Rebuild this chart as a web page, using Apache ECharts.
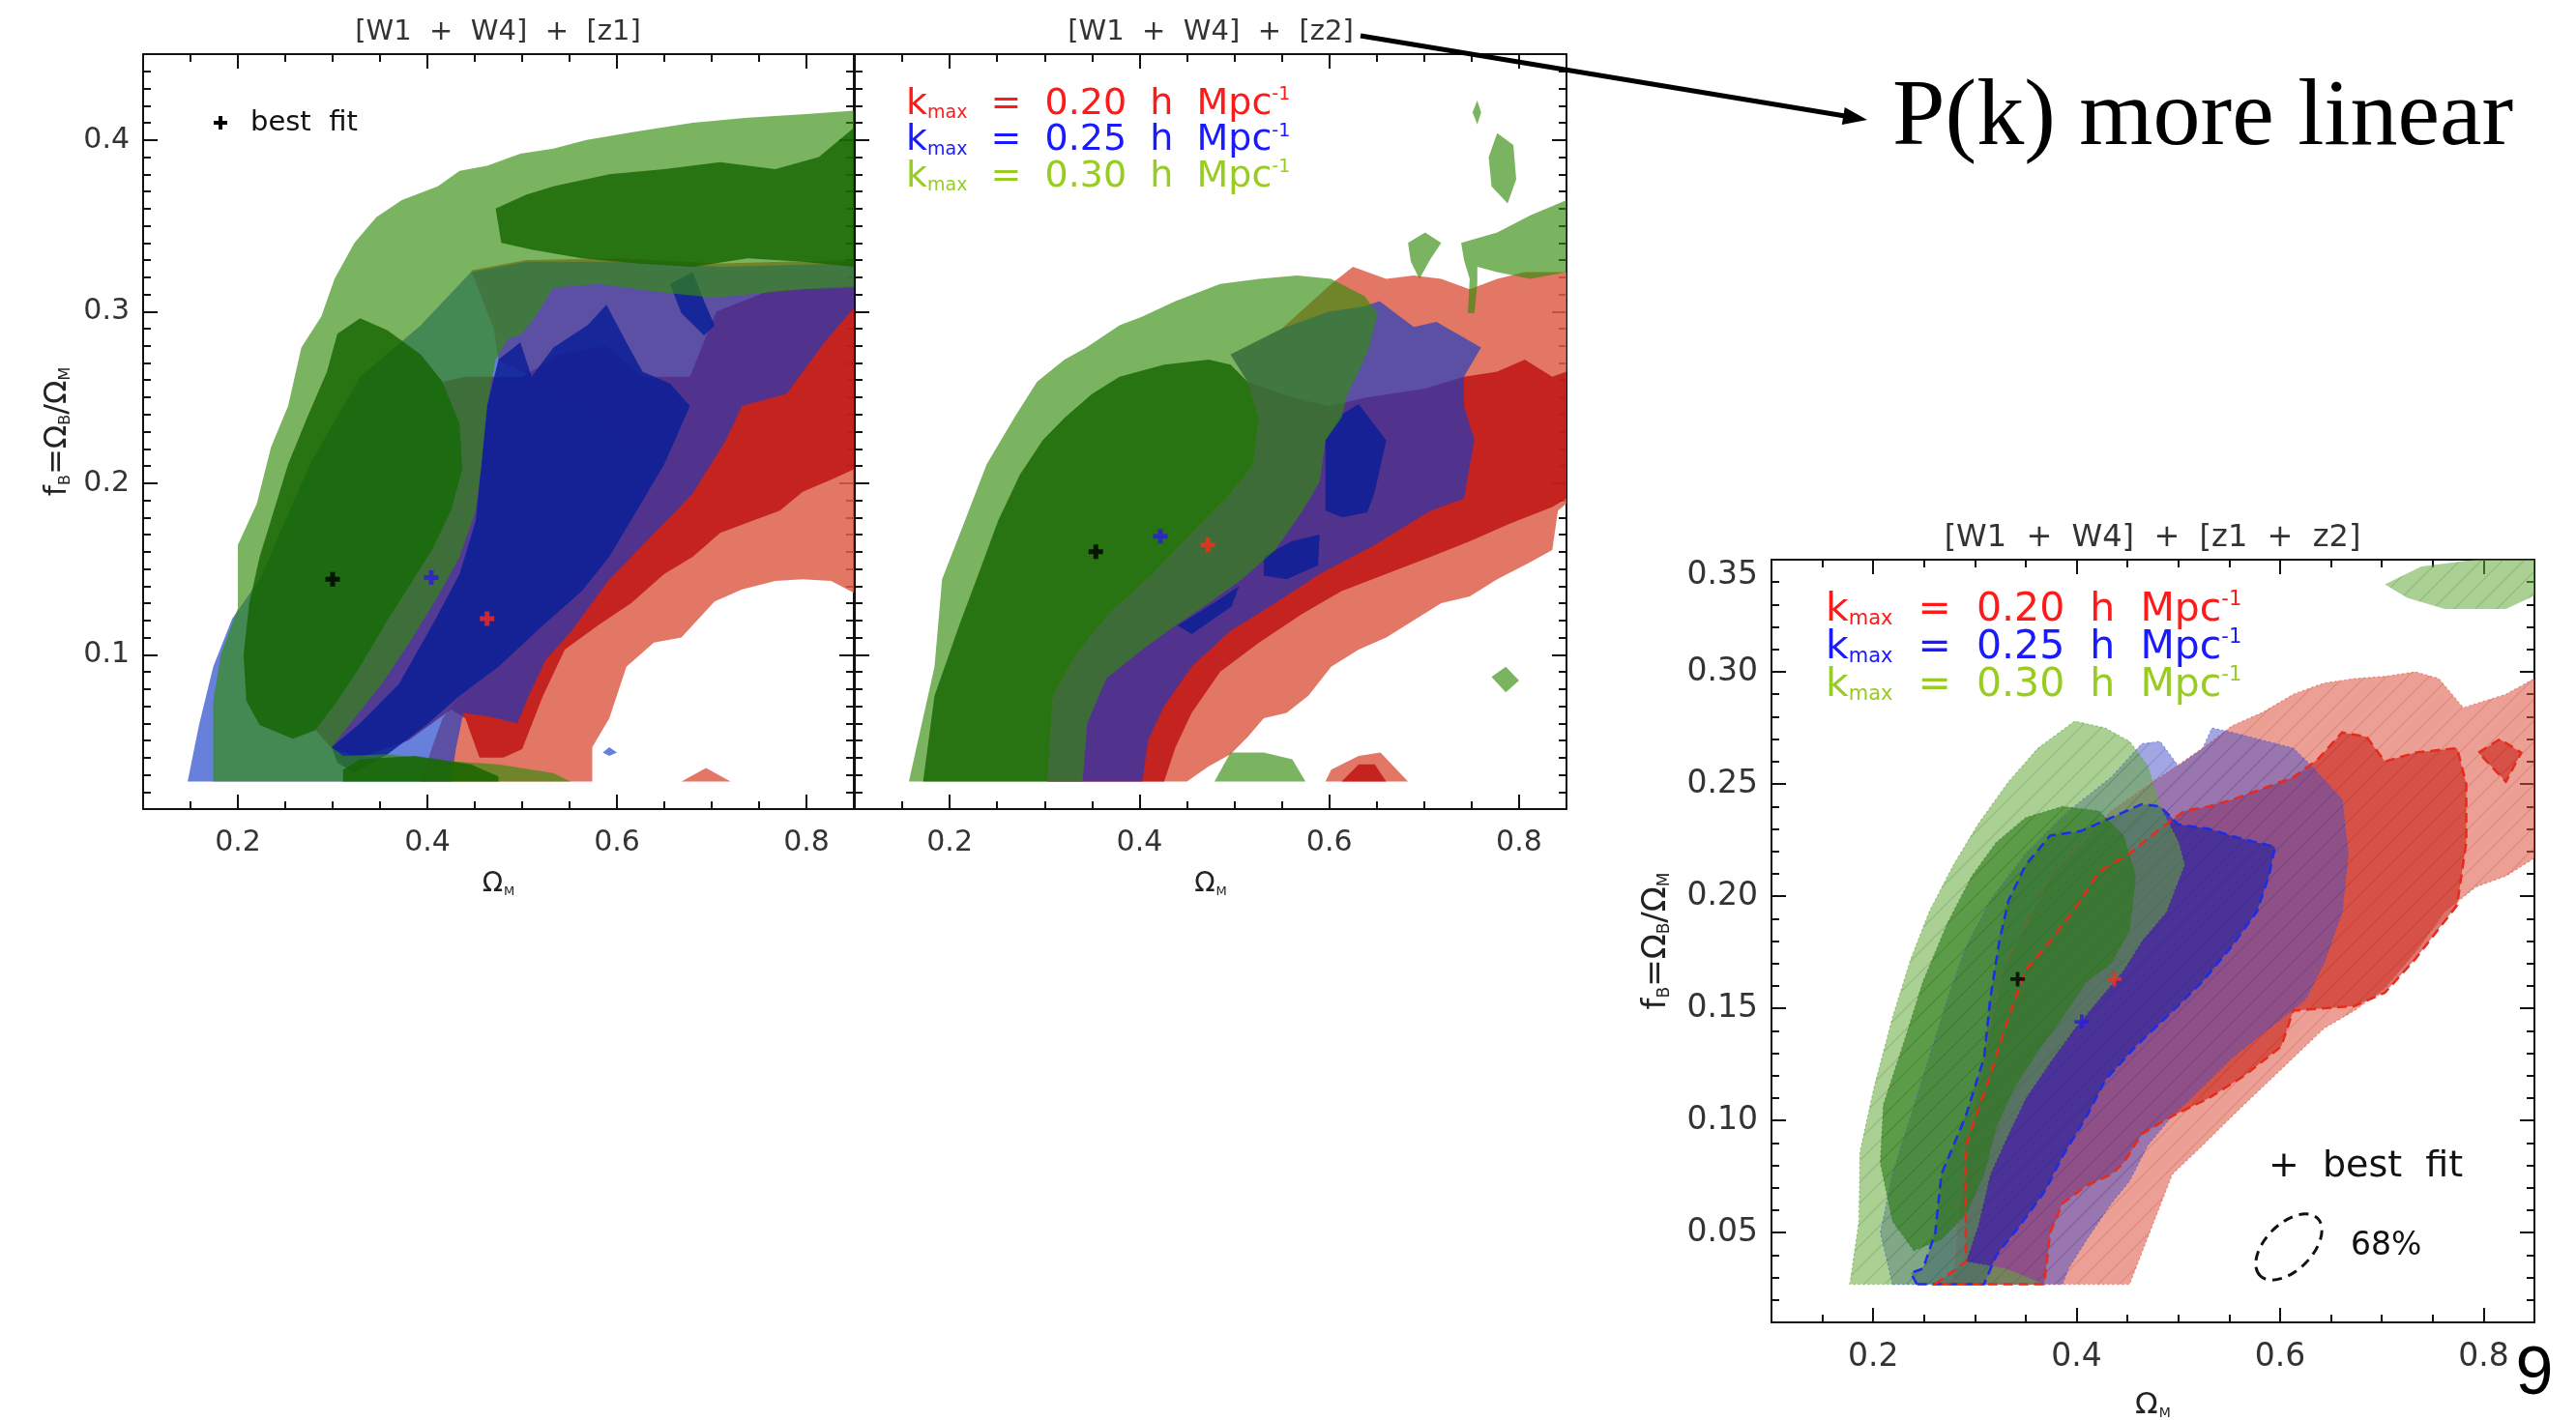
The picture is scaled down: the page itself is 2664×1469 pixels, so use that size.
<!DOCTYPE html>
<html>
<head>
<meta charset="utf-8">
<title>Omega_M vs f_B constraints</title>
<script src="https://cdn.jsdelivr.net/npm/echarts@6/dist/echarts.min.js"></script>
<style>
html,body{margin:0;padding:0;background:#ffffff;}
#chart{width:2664px;height:1469px;}
</style>
</head>
<body>
<div id="chart"></div>
<script>
const FONT = "'DejaVu Sans', 'Noto Sans', sans-serif";

// ---------- axes ----------
const omegaRange = [0.1, 0.85];
const fbRangeSplit = [0.01, 0.45];
const fbRangeJoint = [0.01, 0.35];
const omegaMajor = [0.2, 0.4, 0.6, 0.8];
const omegaMinor = [0.15, 0.25, 0.3, 0.35, 0.45, 0.5, 0.55, 0.65, 0.7, 0.75];
const fbMajorSplit = [0.1, 0.2, 0.3, 0.4];
const fbMajorJoint = [0.05, 0.10, 0.15, 0.20, 0.25, 0.30, 0.35];

const panelTitles = ['[W1  +  W4]  +  [z1]', '[W1  +  W4]  +  [z2]', '[W1  +  W4]  +  [z1  +  z2]'];
const kmaxValues = ['0.20', '0.25', '0.30'];
const kmaxColors = ['#ff1a1a', '#1a1aff', '#99cc22'];

// ---------- best-fit points [Omega_M, f_B]: k=0.30 (black), 0.25 (blue), 0.20 (red) ----------
const bestFitColors = ['#000000', '#2a1ae0', '#ff2a1a'];
const bestFitZ1  = [[0.300, 0.144], [0.404, 0.145], [0.463, 0.121]];
const bestFitZ2  = [[0.354, 0.160], [0.422, 0.169], [0.472, 0.164]];
const bestFitZ12 = [[0.342, 0.163], [0.405, 0.144], [0.437, 0.163]];

// ---------- [z1] contours ----------
const z1RedOuter = [[0.850,0.330],[0.709,0.328],[0.600,0.331],[0.504,0.330],[0.446,0.324],[0.470,0.290],[0.475,0.272],[0.510,0.262],[0.560,0.250],[0.600,0.230],[0.650,0.211],[0.621,0.184],[0.592,0.157],[0.563,0.137],[0.522,0.117],[0.475,0.093],[0.434,0.076],[0.416,0.063],[0.405,0.046],[0.393,0.026],[0.574,0.026],[0.574,0.046],[0.592,0.063],[0.610,0.093],[0.639,0.107],[0.668,0.110],[0.703,0.131],[0.732,0.138],[0.767,0.143],[0.796,0.144],[0.826,0.143],[0.850,0.136]];
const z1RedOuterB = [[0.668,0.026],[0.694,0.034],[0.720,0.026]];
const z1RedInner = [[0.850,0.315],[0.760,0.312],[0.705,0.300],[0.690,0.280],[0.677,0.262],[0.627,0.262],[0.589,0.280],[0.540,0.275],[0.500,0.262],[0.472,0.262],[0.440,0.262],[0.416,0.259],[0.434,0.235],[0.437,0.208],[0.425,0.184],[0.405,0.161],[0.381,0.140],[0.358,0.120],[0.329,0.093],[0.305,0.073],[0.282,0.056],[0.300,0.045],[0.330,0.040],[0.380,0.050],[0.425,0.068],[0.440,0.063],[0.455,0.040],[0.480,0.040],[0.500,0.045],[0.522,0.076],[0.545,0.103],[0.580,0.117],[0.615,0.130],[0.650,0.147],[0.680,0.157],[0.709,0.171],[0.743,0.178],[0.772,0.184],[0.796,0.195],[0.826,0.202],[0.850,0.208]];
const z1BlueOuter = [[0.147,0.026],[0.159,0.059],[0.174,0.093],[0.194,0.121],[0.223,0.144],[0.276,0.211],[0.329,0.262],[0.393,0.292],[0.446,0.323],[0.504,0.329],[0.592,0.329],[0.650,0.328],[0.709,0.326],[0.850,0.328],[0.850,0.302],[0.819,0.282],[0.779,0.252],[0.732,0.245],[0.715,0.225],[0.680,0.194],[0.633,0.167],[0.592,0.144],[0.551,0.113],[0.525,0.097],[0.507,0.076],[0.495,0.060],[0.465,0.064],[0.438,0.066],[0.430,0.045],[0.425,0.026]];
const z1BlueOuterB = [[0.585,0.043],[0.592,0.046],[0.600,0.043],[0.592,0.041]];
const z1BlueInner = [[0.305,0.037],[0.299,0.046],[0.329,0.060],[0.370,0.083],[0.405,0.117],[0.434,0.147],[0.451,0.178],[0.457,0.211],[0.463,0.245],[0.475,0.272],[0.498,0.282],[0.510,0.262],[0.533,0.279],[0.569,0.292],[0.589,0.304],[0.610,0.282],[0.627,0.265],[0.656,0.258],[0.677,0.245],[0.650,0.211],[0.621,0.184],[0.592,0.157],[0.563,0.137],[0.522,0.117],[0.475,0.093],[0.434,0.076],[0.399,0.059],[0.358,0.042],[0.323,0.031]];
const z1BlueInnerB = [[0.656,0.316],[0.680,0.323],[0.692,0.306],[0.703,0.292],[0.692,0.286],[0.668,0.299]];
const z1GreenOuter = [[0.174,0.026],[0.174,0.073],[0.182,0.100],[0.200,0.127],[0.200,0.164],[0.220,0.188],[0.235,0.221],[0.253,0.245],[0.267,0.279],[0.288,0.297],[0.302,0.319],[0.323,0.340],[0.346,0.355],[0.373,0.365],[0.411,0.373],[0.434,0.382],[0.463,0.385],[0.498,0.392],[0.533,0.395],[0.568,0.400],[0.621,0.405],[0.680,0.410],[0.738,0.413],[0.796,0.415],[0.850,0.417],[0.850,0.314],[0.796,0.313],[0.703,0.308],[0.650,0.311],[0.580,0.316],[0.533,0.314],[0.515,0.298],[0.500,0.287],[0.485,0.284],[0.472,0.272],[0.463,0.245],[0.457,0.211],[0.451,0.184],[0.434,0.157],[0.411,0.134],[0.381,0.107],[0.352,0.083],[0.323,0.063],[0.299,0.046],[0.311,0.041],[0.358,0.042],[0.422,0.038],[0.475,0.036],[0.533,0.031],[0.551,0.026]];
const z1GreenInner = [[0.258,0.051],[0.223,0.059],[0.209,0.073],[0.206,0.100],[0.212,0.130],[0.223,0.157],[0.238,0.184],[0.253,0.211],[0.273,0.238],[0.294,0.265],[0.305,0.287],[0.329,0.296],[0.358,0.289],[0.393,0.275],[0.416,0.259],[0.434,0.235],[0.437,0.208],[0.425,0.184],[0.405,0.161],[0.381,0.140],[0.358,0.120],[0.329,0.093],[0.305,0.073],[0.282,0.056]];
const z1GreenInnerB = [[0.472,0.360],[0.504,0.368],[0.533,0.373],[0.592,0.380],[0.650,0.383],[0.709,0.387],[0.767,0.383],[0.813,0.390],[0.850,0.407],[0.850,0.326],[0.796,0.329],[0.738,0.331],[0.680,0.326],[0.621,0.328],[0.563,0.331],[0.510,0.336],[0.478,0.340]];
const z1GreenInnerC = [[0.311,0.026],[0.311,0.033],[0.329,0.039],[0.387,0.041],[0.446,0.036],[0.475,0.029],[0.475,0.026]];

// ---------- [z2] contours ----------
const z2RedOuter = [[0.514,0.259],[0.496,0.275],[0.550,0.290],[0.602,0.316],[0.625,0.326],[0.660,0.319],[0.689,0.321],[0.718,0.319],[0.748,0.313],[0.777,0.319],[0.806,0.323],[0.850,0.323],[0.850,0.188],[0.841,0.184],[0.835,0.161],[0.812,0.154],[0.777,0.144],[0.748,0.134],[0.718,0.130],[0.689,0.120],[0.660,0.110],[0.631,0.103],[0.602,0.093],[0.578,0.076],[0.555,0.066],[0.531,0.063],[0.514,0.052],[0.496,0.042],[0.473,0.035],[0.450,0.026],[0.303,0.026],[0.309,0.076],[0.333,0.100],[0.368,0.124],[0.414,0.147],[0.455,0.171],[0.496,0.194],[0.520,0.211],[0.526,0.238]];
const z2RedOuterB = [[0.596,0.026],[0.602,0.033],[0.631,0.041],[0.654,0.043],[0.683,0.026]];
const z2RedInner = [[0.514,0.259],[0.560,0.250],[0.600,0.245],[0.640,0.250],[0.700,0.255],[0.742,0.262],[0.777,0.265],[0.806,0.272],[0.835,0.262],[0.850,0.265],[0.850,0.191],[0.835,0.186],[0.789,0.176],[0.748,0.166],[0.707,0.157],[0.660,0.147],[0.613,0.137],[0.572,0.124],[0.526,0.107],[0.485,0.090],[0.455,0.066],[0.438,0.046],[0.426,0.026],[0.303,0.026],[0.309,0.076],[0.333,0.100],[0.368,0.124],[0.414,0.147],[0.455,0.171],[0.496,0.194],[0.520,0.211],[0.526,0.238]];
const z2RedInnerB = [[0.613,0.026],[0.631,0.036],[0.648,0.036],[0.660,0.026]];
const z2BlueOuter = [[0.303,0.026],[0.309,0.076],[0.333,0.100],[0.368,0.124],[0.414,0.147],[0.455,0.171],[0.496,0.194],[0.520,0.211],[0.526,0.238],[0.514,0.259],[0.496,0.275],[0.550,0.290],[0.600,0.300],[0.637,0.303],[0.653,0.306],[0.689,0.291],[0.713,0.294],[0.760,0.279],[0.742,0.262],[0.742,0.245],[0.753,0.225],[0.748,0.210],[0.742,0.191],[0.707,0.184],[0.648,0.164],[0.590,0.147],[0.543,0.130],[0.496,0.114],[0.455,0.093],[0.426,0.070],[0.409,0.050],[0.403,0.026]];
const z2BlueInner = [[0.596,0.184],[0.596,0.225],[0.613,0.240],[0.631,0.246],[0.660,0.225],[0.648,0.195],[0.640,0.183],[0.614,0.180]];
const z2BlueInnerB = [[0.531,0.157],[0.560,0.166],[0.590,0.170],[0.588,0.152],[0.555,0.144],[0.531,0.146]];
const z2BlueInnerC = [[0.440,0.117],[0.478,0.130],[0.505,0.140],[0.497,0.128],[0.455,0.112]];
const z2GreenOuter = [[0.157,0.026],[0.184,0.093],[0.192,0.144],[0.216,0.178],[0.239,0.211],[0.268,0.238],[0.292,0.259],[0.321,0.272],[0.344,0.279],[0.379,0.292],[0.403,0.297],[0.438,0.306],[0.485,0.316],[0.526,0.319],[0.566,0.321],[0.602,0.319],[0.637,0.309],[0.651,0.299],[0.642,0.279],[0.631,0.265],[0.619,0.252],[0.613,0.238],[0.596,0.225],[0.590,0.201],[0.572,0.184],[0.543,0.161],[0.508,0.144],[0.473,0.130],[0.438,0.117],[0.403,0.103],[0.365,0.086],[0.345,0.060],[0.340,0.026]];
const z2GreenOuterB = [[0.751,0.416],[0.756,0.423],[0.760,0.416],[0.756,0.409]];
const z2GreenOuterC = [[0.777,0.404],[0.794,0.397],[0.797,0.377],[0.788,0.363],[0.771,0.373],[0.768,0.390]];
const z2GreenOuterD = [[0.683,0.340],[0.701,0.346],[0.718,0.340],[0.706,0.330],[0.695,0.319],[0.686,0.329]];
const z2GreenOuterE = [[0.739,0.340],[0.777,0.346],[0.812,0.356],[0.850,0.365],[0.850,0.323],[0.812,0.319],[0.777,0.323],[0.756,0.326],[0.756,0.316],[0.753,0.299],[0.746,0.299],[0.748,0.319],[0.742,0.330]];
const z2GreenOuterF = [[0.771,0.087],[0.786,0.093],[0.800,0.085],[0.786,0.078]];
const z2GreenOuterG = [[0.479,0.026],[0.496,0.043],[0.531,0.043],[0.561,0.039],[0.575,0.026]];
const z2GreenInner = [[0.172,0.026],[0.184,0.076],[0.210,0.117],[0.233,0.151],[0.251,0.178],[0.274,0.205],[0.298,0.225],[0.321,0.238],[0.350,0.252],[0.379,0.262],[0.426,0.269],[0.473,0.272],[0.496,0.269],[0.514,0.259],[0.526,0.238],[0.520,0.211],[0.496,0.194],[0.455,0.171],[0.414,0.147],[0.368,0.124],[0.333,0.100],[0.309,0.076],[0.303,0.026]];

// ---------- [z1 + z2] contours ----------
const z12RedOuter = [[0.279,0.027],[0.285,0.063],[0.303,0.115],[0.327,0.167],[0.374,0.209],[0.434,0.238],[0.482,0.253],[0.524,0.266],[0.553,0.276],[0.583,0.282],[0.613,0.290],[0.643,0.295],[0.673,0.297],[0.703,0.298],[0.733,0.300],[0.756,0.297],[0.780,0.284],[0.822,0.290],[0.850,0.297],[0.850,0.217],[0.822,0.209],[0.792,0.204],[0.762,0.193],[0.733,0.175],[0.703,0.159],[0.673,0.149],[0.643,0.141],[0.613,0.128],[0.583,0.115],[0.553,0.102],[0.524,0.089],[0.494,0.076],[0.476,0.055],[0.452,0.027]];
const z12RedInner = [[0.261,0.027],[0.291,0.037],[0.291,0.089],[0.315,0.120],[0.333,0.146],[0.350,0.167],[0.374,0.180],[0.404,0.198],[0.422,0.211],[0.452,0.219],[0.482,0.230],[0.506,0.238],[0.530,0.240],[0.553,0.243],[0.583,0.248],[0.613,0.253],[0.637,0.261],[0.661,0.273],[0.685,0.271],[0.703,0.260],[0.733,0.264],[0.774,0.266],[0.783,0.250],[0.783,0.224],[0.774,0.196],[0.733,0.172],[0.703,0.157],[0.673,0.151],[0.613,0.149],[0.601,0.133],[0.565,0.120],[0.530,0.110],[0.494,0.102],[0.464,0.094],[0.446,0.081],[0.434,0.076],[0.410,0.071],[0.386,0.063],[0.374,0.050],[0.368,0.027]];
const z12RedInnerB = [[0.795,0.264],[0.816,0.270],[0.837,0.264],[0.822,0.251]];
const z12BlueOuter = [[0.219,0.027],[0.207,0.050],[0.219,0.076],[0.237,0.102],[0.255,0.128],[0.273,0.154],[0.291,0.177],[0.315,0.198],[0.350,0.219],[0.392,0.238],[0.434,0.253],[0.464,0.268],[0.482,0.269],[0.500,0.258],[0.524,0.266],[0.533,0.275],[0.553,0.273],[0.613,0.266],[0.631,0.258],[0.661,0.243],[0.667,0.219],[0.661,0.193],[0.643,0.170],[0.625,0.154],[0.589,0.141],[0.553,0.128],[0.524,0.115],[0.494,0.102],[0.470,0.089],[0.452,0.073],[0.434,0.063],[0.410,0.047],[0.392,0.034],[0.386,0.027]];
const z12BlueInner = [[0.243,0.027],[0.237,0.032],[0.249,0.034],[0.261,0.050],[0.267,0.076],[0.291,0.102],[0.309,0.128],[0.315,0.154],[0.324,0.180],[0.333,0.198],[0.350,0.214],[0.374,0.227],[0.404,0.229],[0.434,0.235],[0.464,0.241],[0.482,0.240],[0.500,0.232],[0.530,0.230],[0.559,0.226],[0.595,0.222],[0.589,0.209],[0.577,0.193],[0.553,0.178],[0.524,0.162],[0.488,0.146],[0.458,0.133],[0.428,0.118],[0.410,0.102],[0.386,0.084],[0.368,0.068],[0.344,0.053],[0.321,0.040],[0.309,0.027]];
const z12GreenOuter = [[0.177,0.027],[0.186,0.055],[0.187,0.086],[0.201,0.115],[0.219,0.146],[0.237,0.172],[0.255,0.193],[0.279,0.214],[0.303,0.232],[0.333,0.251],[0.362,0.266],[0.398,0.278],[0.428,0.275],[0.452,0.269],[0.470,0.258],[0.482,0.240],[0.500,0.224],[0.506,0.214],[0.488,0.193],[0.464,0.180],[0.446,0.167],[0.422,0.154],[0.398,0.141],[0.374,0.126],[0.350,0.110],[0.333,0.094],[0.315,0.076],[0.303,0.053],[0.291,0.037],[0.330,0.034],[0.368,0.027]];
const z12GreenOuterB = [[0.703,0.339],[0.739,0.347],[0.792,0.350],[0.850,0.350],[0.850,0.334],[0.822,0.328],[0.762,0.328],[0.725,0.333]];
const z12GreenInner = [[0.240,0.042],[0.219,0.055],[0.207,0.081],[0.210,0.107],[0.231,0.136],[0.249,0.162],[0.273,0.188],[0.297,0.209],[0.321,0.224],[0.350,0.235],[0.386,0.240],[0.422,0.238],[0.446,0.227],[0.458,0.209],[0.452,0.185],[0.434,0.170],[0.410,0.162],[0.386,0.146],[0.362,0.131],[0.339,0.115],[0.321,0.097],[0.309,0.076],[0.291,0.058],[0.267,0.047]];

// ---------- styling ----------
const splitFill = {
  redOuter: 'rgba(222,95,75,0.85)', redInner: 'rgba(190,20,20,0.85)',
  blueOuter: 'rgba(20,60,200,0.65)', blueInner: 'rgba(10,30,150,0.85)',
  greenOuter: 'rgba(50,140,10,0.65)', greenInner: 'rgba(20,100,0,0.8)'
};
const jointFill = {
  redOuter: 'rgba(220,80,60,0.55)', redInner: 'rgba(200,30,20,0.6)',
  blueOuter: 'rgba(70,80,200,0.5)', blueInner: 'rgba(30,30,160,0.6)',
  greenOuter: 'rgba(100,170,60,0.55)', greenInner: 'rgba(40,120,20,0.6)'
};

function hatchPattern(color) {
  const n = 22;
  const c = document.createElement('canvas');
  c.width = n; c.height = n;
  const ctx = c.getContext('2d');
  ctx.strokeStyle = color; ctx.lineWidth = 1.1;
  ctx.beginPath();
  ctx.moveTo(0, n); ctx.lineTo(n, 0);
  ctx.moveTo(-n / 2, n / 2); ctx.lineTo(n / 2, -n / 2);
  ctx.moveTo(n / 2, n * 1.5); ctx.lineTo(n * 1.5, n / 2);
  ctx.stroke();
  return c;
}

const grids = [
  { left: 148, top: 56, width: 735, height: 781, outerBoundsMode: 'none' },
  { left: 884, top: 56, width: 736, height: 781, outerBoundsMode: 'none' },
  { left: 1832, top: 579, width: 789, height: 789, outerBoundsMode: 'none' }
];

function minorList(lo, hi, majors) {
  const out = [];
  for (let i = Math.round(lo * 100); i <= Math.round(hi * 100); i++) {
    const v = i / 100;
    if (!majors.some(m => Math.abs(m - v) < 1e-9)) out.push(v);
  }
  return out;
}

const lineStyle = { color: '#111', width: 2 };

function makeX(g, fontSize, nameSize, nameGap) {
  const base = { gridIndex: g, type: 'value', min: omegaRange[0], max: omegaRange[1], splitLine: { show: false } };
  const rich = {
    o: { fontSize: nameSize, fontFamily: FONT, color: '#222' },
    s: { fontSize: Math.round(nameSize * 0.45), fontFamily: FONT, color: '#222', verticalAlign: 'bottom', padding: [0, 0, 0, 1] }
  };
  return [
    Object.assign({}, base, {
      position: 'bottom',
      axisLine: { show: true, onZero: false, lineStyle },
      axisTick: { show: true, inside: true, length: 15, lineStyle, customValues: omegaMajor },
      axisLabel: { show: true, customValues: omegaMajor, formatter: v => v.toFixed(1), fontSize, fontFamily: FONT, color: '#333', margin: 20 },
      name: '{o|Ω}{s|M}', nameLocation: 'middle', nameGap, nameTextStyle: { rich }
    }),
    Object.assign({}, base, {
      position: 'bottom',
      axisLine: { show: false, onZero: false },
      axisTick: { show: true, inside: true, length: 8, lineStyle, customValues: omegaMinor },
      axisLabel: { show: false }
    }),
    Object.assign({}, base, {
      position: 'top',
      axisLine: { show: true, onZero: false, lineStyle },
      axisTick: { show: true, inside: true, length: 15, lineStyle, customValues: omegaMajor },
      axisLabel: { show: false }
    }),
    Object.assign({}, base, {
      position: 'top',
      axisLine: { show: false, onZero: false },
      axisTick: { show: true, inside: true, length: 8, lineStyle, customValues: omegaMinor },
      axisLabel: { show: false }
    })
  ];
}

function makeY(g, range, majors, digits, fontSize, showLabels, nameSize, nameGap) {
  const base = { gridIndex: g, type: 'value', min: range[0], max: range[1], splitLine: { show: false } };
  const minors = minorList(range[0], range[1], majors);
  const rich = {
    t: { fontSize: nameSize, fontFamily: FONT, color: '#222' },
    s: { fontSize: Math.round(nameSize * 0.5), fontFamily: FONT, color: '#222', verticalAlign: 'bottom' }
  };
  const labelCfg = { show: showLabels, customValues: majors, formatter: v => v.toFixed(digits), fontSize, fontFamily: FONT, color: '#333', margin: 14 };
  // a label sitting on the top frame edge is pushed just inside it
  if (Math.abs(majors[majors.length - 1] - range[1]) < 1e-9) labelCfg.verticalAlignMaxLabel = 'top';
  const main = Object.assign({}, base, {
    position: 'left',
    axisLine: { show: true, onZero: false, lineStyle },
    axisTick: { show: true, inside: true, length: 15, lineStyle, customValues: majors },
    axisLabel: labelCfg
  });
  if (showLabels) {
    Object.assign(main, {
      name: '{t|f}{s|B}{t|=Ω}{s|B}{t|/Ω}{s|M}', nameLocation: 'middle', nameRotate: 90, nameGap,
      nameTextStyle: { rich }
    });
  }
  return [
    main,
    Object.assign({}, base, {
      position: 'left',
      axisLine: { show: false, onZero: false },
      axisTick: { show: true, inside: true, length: 8, lineStyle, customValues: minors },
      axisLabel: { show: false }
    }),
    Object.assign({}, base, {
      position: 'right',
      axisLine: { show: true, onZero: false, lineStyle },
      axisTick: { show: true, inside: true, length: 15, lineStyle, customValues: majors },
      axisLabel: { show: false }
    }),
    Object.assign({}, base, {
      position: 'right',
      axisLine: { show: false, onZero: false },
      axisTick: { show: true, inside: true, length: 8, lineStyle, customValues: minors },
      axisLabel: { show: false }
    })
  ];
}

const xAxis = [].concat(makeX(0, 30, 28, 64), makeX(1, 30, 28, 64), makeX(2, 33, 31, 70));
const yAxis = [].concat(
  makeY(0, fbRangeSplit, fbMajorSplit, 1, 30, true, 32, 72),
  makeY(1, fbRangeSplit, fbMajorSplit, 1, 30, false, 32, 72),
  makeY(2, fbRangeJoint, fbMajorJoint, 2, 33, true, 34, 102)
);

const series = [];

// one filled contour region, vertices mapped through the panel's axes
function region(g, poly, fill, opts) {
  opts = opts || {};
  series.push({
    type: 'custom', xAxisIndex: g * 4, yAxisIndex: g * 4,
    data: poly, silent: true, animation: false, clip: true,
    renderItem: function (params, api) {
      if (params.dataIndex !== 0) return null;
      const pts = poly.map(p => api.coord(p));
      const children = [];
      if (fill) children.push({ type: 'polygon', shape: { points: pts }, style: { fill: fill, stroke: null } });
      if (opts.hatch) children.push({ type: 'polygon', shape: { points: pts }, style: { fill: { image: opts.hatch, repeat: 'repeat' }, stroke: null } });
      if (opts.stroke) children.push({ type: 'polygon', shape: { points: pts }, style: { fill: null, stroke: opts.stroke, lineWidth: opts.lineWidth || 2, lineDash: opts.lineDash || null } });
      return { type: 'group', children: children };
    }
  });
}

// [z1]
region(0, z1RedOuter, splitFill.redOuter);
region(0, z1RedOuterB, splitFill.redOuter);
region(0, z1RedInner, splitFill.redInner);
region(0, z1BlueOuter, splitFill.blueOuter);
region(0, z1BlueOuterB, splitFill.blueOuter);
region(0, z1BlueInner, splitFill.blueInner);
region(0, z1BlueInnerB, splitFill.blueInner);
region(0, z1GreenOuter, splitFill.greenOuter);
region(0, z1GreenInner, splitFill.greenInner);
region(0, z1GreenInnerB, splitFill.greenInner);
region(0, z1GreenInnerC, splitFill.greenInner);

// [z2]
region(1, z2RedOuter, splitFill.redOuter);
region(1, z2RedOuterB, splitFill.redOuter);
region(1, z2RedInner, splitFill.redInner);
region(1, z2RedInnerB, splitFill.redInner);
region(1, z2BlueOuter, splitFill.blueOuter);
region(1, z2BlueInner, splitFill.blueInner);
region(1, z2BlueInnerB, splitFill.blueInner);
region(1, z2BlueInnerC, splitFill.blueInner);
region(1, z2GreenOuter, splitFill.greenOuter);
[z2GreenOuterB, z2GreenOuterC, z2GreenOuterD, z2GreenOuterE, z2GreenOuterF, z2GreenOuterG].forEach(p => region(1, p, splitFill.greenOuter));
region(1, z2GreenInner, splitFill.greenInner);

// [z1 + z2], hatched fills with contour outlines
const hatchRed = hatchPattern('rgba(190,60,50,0.25)');
const hatchBlue = hatchPattern('rgba(60,60,170,0.25)');
const hatchGreen = hatchPattern('rgba(60,120,40,0.25)');
region(2, z12RedOuter, jointFill.redOuter, { hatch: hatchRed });
region(2, z12RedInner, jointFill.redInner, { hatch: hatchRed });
region(2, z12RedInnerB, jointFill.redInner, { hatch: hatchRed });
region(2, z12BlueOuter, jointFill.blueOuter, { hatch: hatchBlue });
region(2, z12BlueInner, jointFill.blueInner, { hatch: hatchBlue });
region(2, z12GreenOuter, jointFill.greenOuter, { hatch: hatchGreen });
region(2, z12GreenOuterB, jointFill.greenOuter, { hatch: hatchGreen });
region(2, z12GreenInner, jointFill.greenInner, { hatch: hatchGreen });
region(2, z12RedOuter, null, { stroke: 'rgba(220,70,50,0.55)', lineWidth: 1.2, lineDash: [2, 3] });
region(2, z12BlueOuter, null, { stroke: 'rgba(60,90,210,0.55)', lineWidth: 1.2, lineDash: [2, 3] });
region(2, z12GreenOuter, null, { stroke: 'rgba(90,160,50,0.55)', lineWidth: 1.2, lineDash: [2, 3] });
region(2, z12GreenInner, null, { stroke: 'rgba(50,120,30,0.55)', lineWidth: 1.2, lineDash: [2, 3] });
region(2, z12BlueInner, null, { stroke: '#1a2ee8', lineWidth: 2.5, lineDash: [10, 6] });
region(2, z12RedInner, null, { stroke: '#e82a1a', lineWidth: 2.5, lineDash: [10, 6] });
region(2, z12RedInnerB, null, { stroke: '#e82a1a', lineWidth: 2.5, lineDash: [10, 6] });

// best-fit crosses
const thickPlus = 'path://M2,0H4V2H6V4H4V6H2V4H0V2H2Z';
const thinPlus = 'path://M3,0H5V3H8V5H5V8H3V5H0V3H3Z';
[[bestFitZ1, 0, thickPlus, 15], [bestFitZ2, 1, thickPlus, 15], [bestFitZ12, 2, thinPlus, 15]].forEach(([pts, g, sym, size]) => {
  pts.forEach((p, i) => {
    series.push({
      type: 'scatter', xAxisIndex: g * 4, yAxisIndex: g * 4, data: [p], symbol: sym, symbolSize: size,
      itemStyle: { color: bestFitColors[i] }, silent: true, animation: false, z: 5
    });
  });
});

// legend text blocks
function kmaxLegend(left, top, size, gap) {
  return kmaxValues.map((v, i) => ({
    type: 'text', x: left, y: top + i * gap, z: 20,
    style: {
      text: '{k|k}{s|max}{k|  =  ' + v + '  h  Mpc}{p|-1}',
      verticalAlign: 'middle', align: 'left',
      rich: {
        k: { fontSize: size, fontFamily: FONT, fill: kmaxColors[i] },
        s: { fontSize: Math.round(size * 0.5), fontFamily: FONT, fill: kmaxColors[i], verticalAlign: 'bottom' },
        p: { fontSize: Math.round(size * 0.5), fontFamily: FONT, fill: kmaxColors[i], verticalAlign: 'top' }
      }
    }
  }));
}

const graphic = [].concat(
  // panel titles
  [
    { type: 'text', x: 515, y: 33, style: { text: panelTitles[0], fontSize: 29, fontFamily: FONT, fill: '#333', align: 'center', verticalAlign: 'middle' } },
    { type: 'text', x: 1252, y: 33, style: { text: panelTitles[1], fontSize: 29, fontFamily: FONT, fill: '#333', align: 'center', verticalAlign: 'middle' } },
    { type: 'text', x: 2226, y: 557, style: { text: panelTitles[2], fontSize: 32, fontFamily: FONT, fill: '#333', align: 'center', verticalAlign: 'middle' } }
  ],
  kmaxLegend(937, 108, 38, 37.5),
  kmaxLegend(1888, 631, 41, 39),
  [
    // best-fit key, [z1]
    { type: 'rect', shape: { x: 221, y: 125, width: 14, height: 4 }, style: { fill: '#000' }, z: 20 },
    { type: 'rect', shape: { x: 226, y: 120, width: 4, height: 14 }, style: { fill: '#000' }, z: 20 },
    { type: 'text', x: 259, y: 127, z: 20, style: { text: 'best  fit', fontSize: 29, fontFamily: FONT, fill: '#111', align: 'left', verticalAlign: 'middle' } },
    // best-fit and 68% key, [z1 + z2]
    { type: 'text', x: 2346, y: 1207, z: 20, style: { text: '+  best  fit', fontSize: 38, fontFamily: FONT, fill: '#111', align: 'left', verticalAlign: 'middle' } },
    { type: 'ellipse', shape: { cx: 0, cy: 0, rx: 42, ry: 24 }, x: 2367, y: 1290, rotation: Math.PI / 4, z: 20,
      style: { fill: null, stroke: '#111', lineWidth: 3, lineDash: [10, 7] } },
    { type: 'text', x: 2431, y: 1289, z: 20, style: { text: '68%', fontSize: 33, fontFamily: FONT, fill: '#111', align: 'left', verticalAlign: 'middle' } },
    // annotation arrow
    { type: 'line', shape: { x1: 1407, y1: 37, x2: 1908, y2: 120 }, style: { stroke: '#000', lineWidth: 5 }, z: 30 },
    { type: 'polygon', shape: { points: [[1931, 124], [1904.8, 128.9], [1907.8, 111.1]] }, style: { fill: '#000' }, z: 30 },
    { type: 'text', x: 1957, y: 123, z: 30, style: { text: 'P(k) more linear', fontSize: 98, fontFamily: "'Liberation Serif', 'DejaVu Serif', serif", fill: '#000', align: 'left', verticalAlign: 'middle' } },
    // page number
    { type: 'text', x: 2621, y: 1423, z: 30, style: { text: '9', fontSize: 70, fontFamily: "'Liberation Sans', Arial, sans-serif", fill: '#000', align: 'center', verticalAlign: 'middle' } }
  ]
);

const chart = echarts.init(document.getElementById('chart'), null, { renderer: 'canvas' });
chart.setOption({
  backgroundColor: '#ffffff',
  animation: false,
  grid: grids,
  xAxis: xAxis,
  yAxis: yAxis,
  series: series,
  graphic: graphic
});
</script>
</body>
</html>
